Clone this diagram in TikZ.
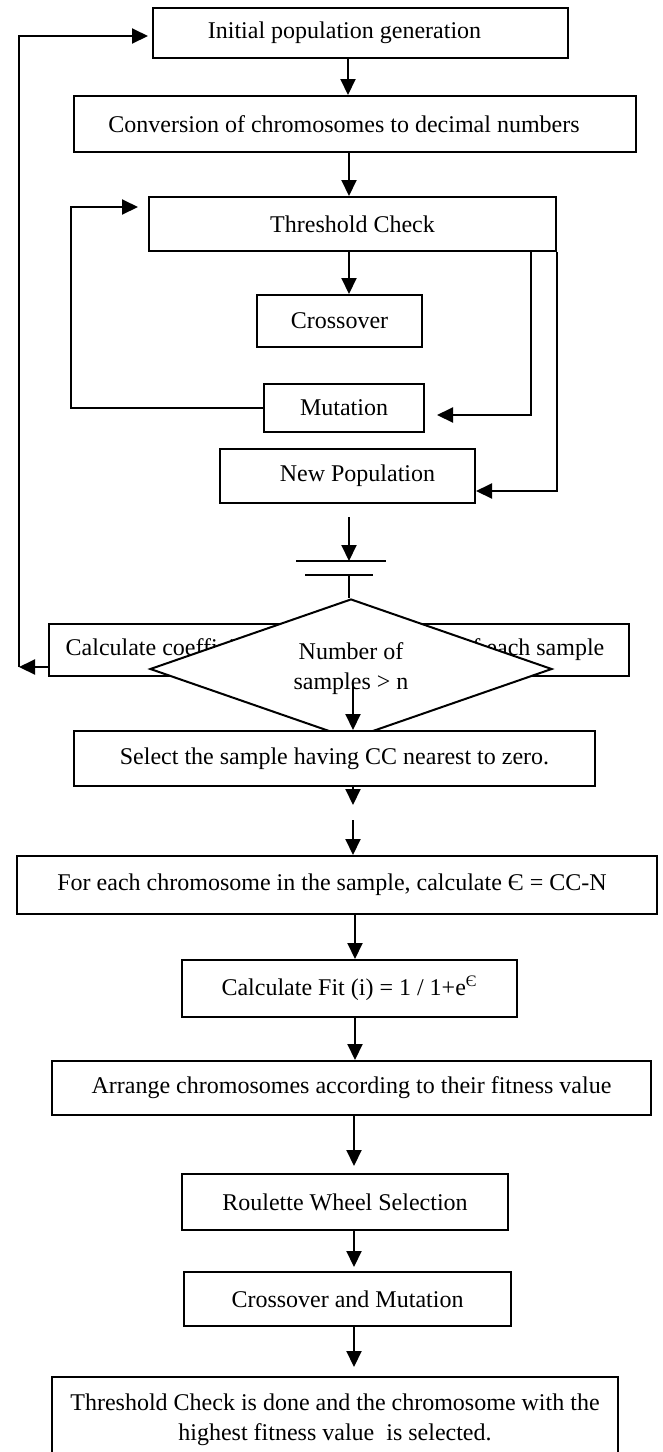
\documentclass[tikz,border=0pt]{standalone}
\usepackage{fontspec}
\setmainfont{Liberation Serif}
\usepackage{tikz}
\usetikzlibrary{arrows.meta}
\usetikzlibrary{calc,shapes.geometric}
\tikzset{
	stage/.style={draw,fill=white,line width=1pt,inner sep=0pt,align=center,font=\fontsize{12}{15}\selectfont},
	flow/.style={line width=1pt,->},
	bar/.style={line width=1pt},
}

\begin{document}
\begin{tikzpicture}[x=0.5pt,y=-0.5pt,>={Triangle[length=8pt,width=7.5pt]}]
			\useasboundingbox (0,0) rectangle (663,1452);
			\clip (0,0) rectangle (663,1452);
			\node[stage,minimum width=207.5pt,minimum height=25pt] (init) at (360.5,33) {Initial population generation\hspace*{16pt}};
			\node[stage,minimum width=281pt,minimum height=28pt] (conv) at (355,124) {Conversion of chromosomes to decimal numbers\hspace*{11pt}};
			\node[stage,minimum width=203.5pt,minimum height=27pt] (thr) at (352.5,224) {Threshold Check};
			\node[stage,minimum width=82.5pt,minimum height=26pt] (cross) at (339.5,321) {Crossover};
			\node[stage,minimum width=80pt,minimum height=24pt] (mut) at (344,408) {Mutation};
			\node[stage,minimum width=127.5pt,minimum height=27pt] (newpop) at (347.5,476) {\hspace*{10pt}New Population};
			\node[stage,minimum width=290pt,minimum height=26pt] (calc) at (339,650) {Calculate coefficient of correlation (CC) of each sample\hspace*{4pt}};
			\node[stage,diamond,aspect=2.9,minimum width=201pt,minimum height=70pt] (dec) at (351,669) {Number of\\samples > n};
			\node[stage,minimum width=260.5pt,minimum height=27.5pt] (select) at (334.5,758.5) {Select the sample having CC nearest to zero.};
			\node[stage,minimum width=320pt,minimum height=29pt] (each) at (337,885) {For each chromosome in the sample, calculate Є = CC-N\hspace*{5pt}};
			\node[stage,minimum width=167.5pt,minimum height=28.5pt] (fit) at (349.5,988.5) {Calculate Fit (i) = 1 / 1+e\textsuperscript{Є}};
			\node[stage,minimum width=299.5pt,minimum height=27pt] (arrange) at (351.5,1088) {Arrange chromosomes according to their fitness value};
			\node[stage,minimum width=163pt,minimum height=28pt] (roul) at (345,1202) {Roulette Wheel Selection};
			\node[stage,minimum width=163.5pt,minimum height=27pt] (cm) at (347.5,1299) {Crossover and Mutation};
			\node[stage,minimum width=283pt,minimum height=43pt] (final) at (335,1420) {Threshold Check is done and the chromosome with the\\highest fitness value\ \ is selected.};
			% main flow
			\draw[flow] (init.south -| 348,0) -- (conv.north -| 348,0);
			\draw[flow] (conv.south -| 349,0) -- (thr.north -| 349,0);
			\draw[flow] (thr.south -| 349,0) -- (cross.north -| 349,0);
			\draw[flow,shorten >=6pt] (thr.south -| 531,0) |- ($(mut.east)+(0,7)$);
			\draw[flow] (thr.south east) |- ($(newpop.east)+(0,15)$);
			\draw[flow,shorten >=5pt] (mut.west) -| ($(thr.west)+(-77,-17)$) -- ($(thr.west)+(0,-17)$);
			\coordinate (bar1) at (349,561);
			\coordinate (bar2) at (349,575);
			\draw[flow] ($(newpop.south)+(1.5,13)$) -- (bar1);
			\draw[bar] ($(bar1)+(-53,0)$) -- ($(bar1)+(37,0)$);
			\draw[bar] ($(bar2)+(-44,0)$) -- ($(bar2)+(24,0)$);
			\draw[bar] (bar2) -- (bar2 |- dec.north);
			\draw[flow] ($(dec.center)+(2,14)$) -- (select.north -| 353,0);
			% back to the start
			\coordinate (back) at (19,667);
			\draw[flow] ($(calc.west)+(0,17)$) -- (back);
			\draw[flow,shorten >=2pt] (back) |- ($(init.west)+(0,3)$);
			\coordinate (gap) at (353,805);
			\coordinate (gapend) at (353,820);
			\draw[flow] (select.south -| gap) -- (gap);
			\draw[flow] (gapend) -- (each.north -| gapend);
			\draw[flow] (each.south -| 355,0) -- (fit.north -| 355,0);
			\draw[flow] (fit.south -| 355,0) -- (arrange.north -| 355,0);
			\draw[flow,shorten >=3.5pt] (arrange.south -| 354,0) -- (roul.north -| 354,0);
			\draw[flow,shorten >=2pt] (roul.south -| 354,0) -- (cm.north -| 354,0);
			\draw[flow,shorten >=4.5pt] (cm.south -| 354,0) -- (final.north -| 354,0);
\end{tikzpicture}
\end{document}
